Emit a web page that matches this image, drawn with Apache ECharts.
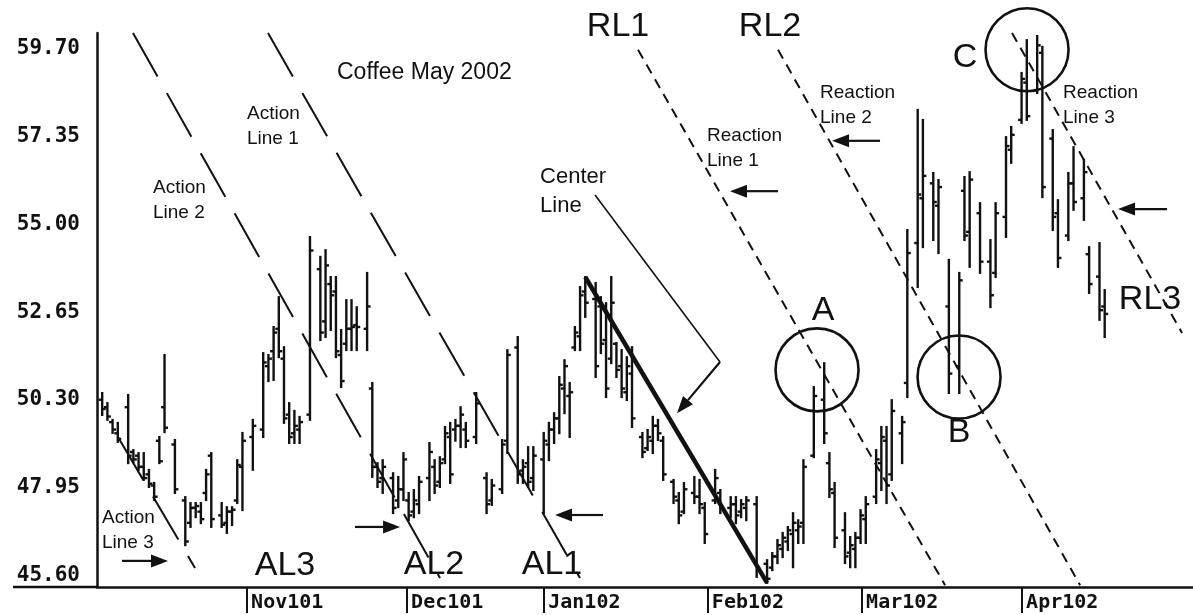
<!DOCTYPE html>
<html>
<head>
<meta charset="utf-8">
<title>Coffee May 2002</title>
<script src="https://cdn.jsdelivr.net/npm/echarts@6/dist/echarts.min.js"></script>
<style>
  html, body { margin: 0; padding: 0; background: #fff; }
  #chart { width: 1193px; height: 615px; }
</style>
</head>
<body>
<div id="chart"></div>
<script>
// Price scale labels and month boundaries (x unit = calendar day from the chart origin)
const priceTicks = [45.60, 47.95, 50.30, 52.65, 55.00, 57.35, 59.70];
const monthStarts = [28.9, 59.7, 86.1, 117.6, 147.3, 178.1];
const monthLabels = ['Nov101', 'Dec101', 'Jan102', 'Feb102', 'Mar102', 'Apr102'];

// Daily OHLC bars, Coffee May 2002
const sessionDays = [
  1, 2, 3, 4, 6, 7, 8, 9, 10, 11,
  12, 13, 15, 17, 18, 19, 20, 21, 22, 24,
  25, 26, 27, 28, 30, 32, 33, 34, 35, 36,
  37, 38, 39, 41, 43, 44, 45, 46, 47, 48,
  49, 50, 52, 53, 54, 55, 57, 58, 59, 60,
  61, 62, 64, 65, 66, 67, 68, 69, 70, 71,
  73, 75, 76, 78, 79, 81, 82, 83, 84, 86,
  87, 88, 89, 90, 91, 92, 93, 94, 96, 97,
  98, 99, 100, 101, 102, 103, 105, 106, 107, 108,
  109, 111, 112, 113, 115, 116, 117, 119, 120, 122,
  123, 124, 125, 127, 129, 130, 131, 132, 133, 134,
  135, 136, 138, 140, 141, 142, 144, 145, 146, 147,
  148, 150, 151, 152, 153, 155, 156, 158, 159, 161,
  162, 164, 166, 167, 168, 170, 172, 173, 175, 176,
  178, 179, 181, 182, 184, 185, 187, 188, 190, 191,
  193, 194
];
const openPrices = [
  50.30, 50.10, 49.70, 49.40, 50.10, 48.90, 48.80, 48.50, 48.30, 48.00,
  49.20, 50.10, 49.10, 47.60, 47.00, 47.40, 47.30, 47.80, 48.80, 47.20,
  47.00, 47.30, 47.60, 48.50, 49.30, 49.50, 51.20, 51.60, 52.20, 51.40,
  49.90, 49.40, 49.50, 49.90, 53.80, 52.40, 53.40, 53.20, 51.50, 51.80,
  52.20, 52.30, 52.20, 50.60, 48.50, 48.20, 48.20, 47.60, 47.90, 47.60,
  47.30, 47.50, 48.20, 48.50, 48.10, 48.70, 49.30, 49.50, 49.60, 49.50,
  49.30, 48.20, 47.60, 47.90, 49.20, 51.70, 48.40, 48.60, 48.20, 48.70,
  49.10, 49.50, 49.80, 50.60, 50.40, 51.70, 52.00, 53.20, 53.00, 52.80,
  51.90, 51.40, 51.80, 51.20, 50.50, 51.00, 49.30, 49.00, 49.20, 49.60,
  49.20, 48.10, 47.60, 47.30, 47.80, 47.70, 47.40, 47.60, 47.80, 47.40,
  47.50, 47.30, 47.40, 47.50, 45.90, 45.80, 46.10, 46.30, 46.50, 46.70,
  46.80, 47.00, 48.80, 50.30, 48.60, 47.80, 46.80, 46.20, 46.30, 46.60,
  47.10, 47.70, 48.60, 49.20, 48.30, 49.40, 50.75, 54.50, 55.70, 56.10,
  55.50, 52.80, 51.20, 55.90, 54.80, 55.30, 54.00, 53.70, 55.20, 57.00,
  57.80, 58.80, 58.60, 59.60, 57.30, 55.30, 54.70, 56.10, 55.70, 54.20,
  53.60, 52.80
];
const highPrices = [
  50.48, 50.21, 49.76, 49.68, 50.43, 48.95, 48.87, 48.87, 48.42, 48.07,
  49.30, 51.50, 49.22, 47.69, 47.53, 47.53, 47.53, 48.42, 48.87, 47.53,
  47.42, 47.42, 48.68, 49.41, 49.76, 51.55, 51.50, 52.25, 53.05, 51.71,
  50.21, 50.00, 49.84, 54.66, 54.13, 54.31, 53.59, 53.59, 52.17, 52.97,
  52.97, 52.78, 53.70, 50.75, 48.60, 48.68, 48.33, 48.23, 48.87, 47.80,
  47.88, 48.23, 49.14, 48.68, 48.76, 49.57, 49.68, 49.76, 50.10, 49.68,
  50.48, 48.33, 48.15, 49.22, 51.63, 51.98, 48.68, 49.03, 49.03, 49.41,
  49.68, 49.94, 50.91, 51.36, 50.75, 52.25, 53.32, 53.59, 53.43, 53.05,
  52.89, 53.59, 51.82, 51.63, 51.44, 51.71, 49.41, 49.49, 49.84, 49.76,
  49.30, 48.15, 47.80, 48.07, 48.23, 48.15, 47.53, 48.42, 47.88, 47.69,
  47.69, 47.61, 47.69, 47.69, 46.00, 46.19, 46.54, 46.73, 46.89, 47.26,
  47.07, 48.68, 50.64, 51.28, 48.87, 48.07, 47.26, 46.62, 46.73, 47.34,
  47.69, 48.95, 49.57, 49.57, 50.29, 49.84, 54.85, 58.07, 57.80, 56.38,
  56.19, 54.05, 53.70, 56.27, 56.40, 55.57, 54.58, 55.57, 57.34, 57.61,
  59.06, 59.94, 60.05, 59.76, 57.53, 55.65, 56.38, 57.07, 56.73, 54.39,
  54.50, 53.24
];
const lowPrices = [
  49.89, 49.76, 49.41, 49.17, 48.60, 48.63, 48.42, 48.15, 47.96, 47.61,
  48.60, 49.43, 47.80, 46.40, 46.89, 47.15, 46.99, 47.61, 46.89, 46.89,
  46.73, 46.94, 47.53, 47.34, 48.42, 49.30, 50.80, 50.83, 51.44, 49.68,
  49.14, 49.14, 49.14, 49.76, 51.90, 51.98, 52.17, 51.44, 50.64, 51.63,
  51.63, 51.63, 51.63, 48.23, 47.96, 47.80, 47.26, 47.42, 47.61, 47.07,
  47.15, 47.26, 47.61, 47.80, 47.96, 48.60, 48.07, 49.20, 49.03, 49.03,
  49.14, 47.26, 47.48, 47.80, 48.87, 48.07, 48.07, 47.96, 47.88, 47.26,
  48.68, 49.14, 49.40, 49.94, 49.30, 51.63, 51.63, 52.52, 50.91, 51.55,
  50.37, 51.28, 50.91, 50.37, 50.29, 49.57, 48.76, 48.95, 48.87, 49.22,
  48.15, 47.53, 46.99, 47.26, 47.53, 47.26, 46.46, 47.53, 47.26, 47.15,
  46.99, 47.15, 47.07, 45.55, 45.39, 45.73, 45.92, 46.08, 46.27, 45.81,
  46.46, 46.46, 48.76, 49.14, 47.69, 46.35, 45.92, 45.81, 45.81, 46.46,
  46.46, 47.53, 47.88, 47.53, 48.15, 48.60, 50.37, 53.32, 54.39, 54.58,
  54.23, 50.48, 50.48, 54.58, 53.86, 53.70, 52.78, 53.59, 54.66, 56.65,
  57.72, 57.80, 58.52, 55.73, 54.85, 53.86, 54.58, 55.39, 55.12, 53.16,
  52.44, 51.98
];
const closePrices = [
  50.05, 49.85, 49.50, 49.25, 48.80, 48.70, 48.50, 48.20, 48.05, 47.70,
  48.65, 49.55, 47.90, 46.50, 47.40, 47.45, 47.10, 48.30, 47.10, 46.95,
  47.30, 47.35, 48.55, 49.20, 49.60, 51.30, 51.40, 52.10, 51.60, 49.80,
  49.30, 49.60, 49.70, 54.30, 52.10, 53.90, 53.10, 51.60, 50.80, 52.20,
  52.25, 52.25, 52.80, 48.50, 48.10, 48.50, 47.40, 47.90, 48.70, 47.20,
  47.60, 48.10, 48.90, 48.00, 48.60, 49.40, 48.30, 49.60, 49.90, 49.20,
  50.20, 47.50, 48.00, 49.10, 51.50, 48.30, 48.50, 48.10, 48.80, 49.20,
  49.50, 49.80, 50.70, 51.20, 50.50, 52.10, 53.10, 52.90, 51.20, 51.80,
  50.60, 52.90, 51.10, 50.60, 51.20, 49.80, 48.90, 49.30, 49.60, 49.40,
  48.30, 47.70, 47.20, 47.90, 47.70, 47.50, 46.70, 48.20, 47.40, 47.50,
  47.20, 47.50, 47.60, 45.80, 45.50, 46.10, 46.40, 46.60, 46.80, 47.00,
  46.90, 48.50, 50.40, 49.40, 47.90, 46.60, 46.10, 46.40, 46.60, 47.20,
  47.50, 48.70, 49.30, 48.00, 50.00, 49.70, 54.23, 55.80, 56.30, 55.60,
  56.00, 51.00, 53.50, 54.70, 56.20, 54.00, 53.10, 55.30, 57.10, 57.40,
  58.90, 57.90, 59.80, 56.00, 55.20, 54.10, 56.10, 55.60, 56.40, 53.40,
  52.70, 52.60
];

// Trend lines drawn on the chart: [dayFrom, priceFrom, dayTo, priceTo]
const actionLines = [
  [32.92, 60.13, 92.99, 45.52],
  [6.93, 60.13, 66.04, 45.52],
  [4.04, 49.30, 18.87, 45.79]
];
const reactionLines = [
  [104.16, 59.68, 163.27, 45.33],
  [131.11, 59.68, 189.26, 45.33],
  [176.16, 60.13, 208.89, 52.09]
];
const centerLine = [[94, 53.59, 129, 45.39]];
const centerPointer = [[95.88, 55.79, 119.94, 51.31]];
const arrows = [
  [119.94, 51.31, 111.67, 49.94],
  [4.81, 45.98, 13.67, 45.98],
  [49.67, 46.89, 58.34, 46.89],
  [97.42, 47.21, 88.18, 47.21],
  [131.11, 55.89, 121.87, 55.89],
  [150.75, 57.24, 141.51, 57.24],
  [206.00, 55.41, 196.57, 55.41]
];
const circleCenters = [[138.62, 51.10], [165.96, 50.91], [179.05, 59.68]];

// Text annotations anchored in chart coordinates
const lineTags = ['RL1', 'RL2', 'RL3', 'AL1', 'AL2', 'AL3', 'A', 'B', 'C'];
const lineTagPoints = [
  [100.31, 60.29], [129.57, 60.29], [202.73, 52.97],
  [87.60, 45.87], [64.88, 45.87], [36.20, 45.84],
  [139.78, 52.68], [165.96, 49.41], [167.12, 59.46]
];
const noteTexts = ['Action\nLine 1', 'Action\nLine 2', 'Action\nLine 3',
                   'Reaction\nLine 1', 'Reaction\nLine 2', 'Reaction\nLine 3'];
const notePoints = [[28.88, 57.64], [10.78, 55.64], [0.96, 46.79],
                    [117.44, 57.03], [139.20, 58.20], [185.98, 58.20]];
const centerNote = ['Center\nLine'];
const centerNotePoints = [[85.29, 55.87]];

const INK = '#111';
const SANS = '"Liberation Sans", Arial, sans-serif';
const MONO = '"DejaVu Sans Mono", monospace';

// Plot frame
const GRID = { left: 97, right: 0, top: 33, bottom: 28 };
const AXIS_LEAD = 84; // the time axis line runs on under the price labels

const ohlcRows = sessionDays.map((d, i) => [d, openPrices[i], highPrices[i], lowPrices[i], closePrices[i]]);

function renderBar(params, api) {
  const d = api.value(0);
  const o = api.coord([d, api.value(1)]);
  const h = api.coord([d, api.value(2)]);
  const l = api.coord([d, api.value(3)]);
  const c = api.coord([d, api.value(4)]);
  const tick = 3.5;
  const st = { stroke: INK, lineWidth: 2.4 };
  return {
    type: 'group',
    children: [
      { type: 'line', shape: { x1: h[0], y1: h[1] - 1, x2: l[0], y2: l[1] + 1 }, style: st },
      { type: 'line', shape: { x1: o[0] - tick, y1: o[1], x2: o[0], y2: o[1] }, style: st },
      { type: 'line', shape: { x1: c[0], y1: c[1], x2: c[0] + tick, y2: c[1] }, style: st }
    ]
  };
}

function lineSeries(name, data, width, dash) {
  return {
    type: 'custom', name, data, silent: true, clip: false, z: 4,
    encode: { x: [0, 2], y: [1, 3] },
    renderItem(params, api) {
      const a = api.coord([api.value(0), api.value(1)]);
      const b = api.coord([api.value(2), api.value(3)]);
      return {
        type: 'line',
        shape: { x1: a[0], y1: a[1], x2: b[0], y2: b[1] },
        style: { stroke: INK, lineWidth: width, lineDash: dash || null, lineCap: 'butt' }
      };
    }
  };
}

function arrowSeries(data) {
  return {
    type: 'custom', name: 'arrows', data, silent: true, clip: false, z: 5,
    encode: { x: [0, 2], y: [1, 3] },
    renderItem(params, api) {
      const a = api.coord([api.value(0), api.value(1)]);
      const b = api.coord([api.value(2), api.value(3)]);
      const dx = b[0] - a[0], dy = b[1] - a[1];
      const len = Math.hypot(dx, dy) || 1;
      const ux = dx / len, uy = dy / len;
      const headLen = 17, headW = 6.5;
      const base = [b[0] - ux * headLen, b[1] - uy * headLen];
      const p1 = [base[0] - uy * headW, base[1] + ux * headW];
      const p2 = [base[0] + uy * headW, base[1] - ux * headW];
      return {
        type: 'group',
        children: [
          { type: 'line', shape: { x1: a[0], y1: a[1], x2: base[0], y2: base[1] }, style: { stroke: INK, lineWidth: 2.2 } },
          { type: 'polygon', shape: { points: [b, p1, p2] }, style: { fill: INK } }
        ]
      };
    }
  };
}

function circleSeries(data) {
  return {
    type: 'custom', name: 'circles', data, silent: true, clip: false, z: 5,
    renderItem(params, api) {
      const p = api.coord([api.value(0), api.value(1)]);
      return {
        type: 'circle',
        shape: { cx: p[0], cy: p[1], r: 41.5 },
        style: { stroke: INK, lineWidth: 2.6, fill: null }
      };
    }
  };
}

function textSeries(name, points, texts, fontSize, align, lineHeight) {
  return {
    type: 'custom', name, data: points, silent: true, clip: false, z: 6,
    renderItem(params, api) {
      const p = api.coord([api.value(0), api.value(1)]);
      return {
        type: 'text',
        x: p[0], y: p[1],
        style: {
          text: texts[params.dataIndex],
          fill: INK,
          fontFamily: SANS,
          fontSize,
          align,
          verticalAlign: 'middle',
          lineHeight: lineHeight || fontSize
        }
      };
    }
  };
}

const chart = echarts.init(document.getElementById('chart'), null, { renderer: 'canvas' });

const axisBottom = 615 - GRID.bottom;

chart.setOption({
  animation: false,
  backgroundColor: '#fff',
  title: {
    text: 'Coffee May 2002',
    left: 337, top: 61, padding: 0,
    textStyle: { fontFamily: SANS, fontSize: 23, fontWeight: 'normal', color: INK }
  },
  graphic: [{
    type: 'line', silent: true,
    shape: { x1: GRID.left - AXIS_LEAD, y1: axisBottom, x2: GRID.left, y2: axisBottom },
    style: { stroke: INK, lineWidth: 2.5 }
  }],
  grid: Object.assign({ outerBoundsMode: 'none' }, GRID),
  xAxis: {
    type: 'value',
    min: 0, max: 211,
    splitLine: { show: false },
    axisLine: { show: true, onZero: false, lineStyle: { color: INK, width: 2.5 } },
    axisTick: { show: true, customValues: monthStarts, length: 26, lineStyle: { color: INK, width: 2 } },
    axisLabel: {
      customValues: monthStarts,
      formatter(value) {
        let best = 0;
        monthStarts.forEach((m, i) => { if (Math.abs(m - value) < Math.abs(monthStarts[best] - value)) best = i; });
        return monthLabels[best];
      },
      align: 'left', margin: 6, padding: [0, 0, 0, 4],
      fontFamily: MONO, fontWeight: 'bold', fontSize: 20, color: INK
    }
  },
  yAxis: {
    type: 'value',
    min: 45.28, max: 60.13,
    splitLine: { show: false },
    axisLine: { show: true, onZero: false, lineStyle: { color: INK, width: 2.5 } },
    axisTick: { show: false },
    axisLabel: {
      show: true,
      customValues: priceTicks,
      formatter: (v) => Number(v).toFixed(2),
      margin: 17,
      fontFamily: MONO, fontWeight: 'bold', fontSize: 21, color: INK
    }
  },
  series: [
    {
      type: 'custom', name: 'Coffee May 2002', data: ohlcRows, z: 3,
      encode: { x: 0, y: [1, 2, 3, 4] },
      renderItem: renderBar
    },
    lineSeries('Action lines', actionLines, 2, [50, 19]),
    lineSeries('Reaction lines', reactionLines, 2, [10, 7]),
    lineSeries('Center line', centerLine, 4.5, null),
    lineSeries('Center line pointer', centerPointer, 1.6, null),
    arrowSeries(arrows),
    circleSeries(circleCenters),
    textSeries('tags', lineTagPoints, lineTags, 34, 'center'),
    textSeries('notes', notePoints, noteTexts, 19, 'left', 25),
    textSeries('center note', centerNotePoints, centerNote, 22, 'left', 29)
  ]
});
</script>
</body>
</html>
